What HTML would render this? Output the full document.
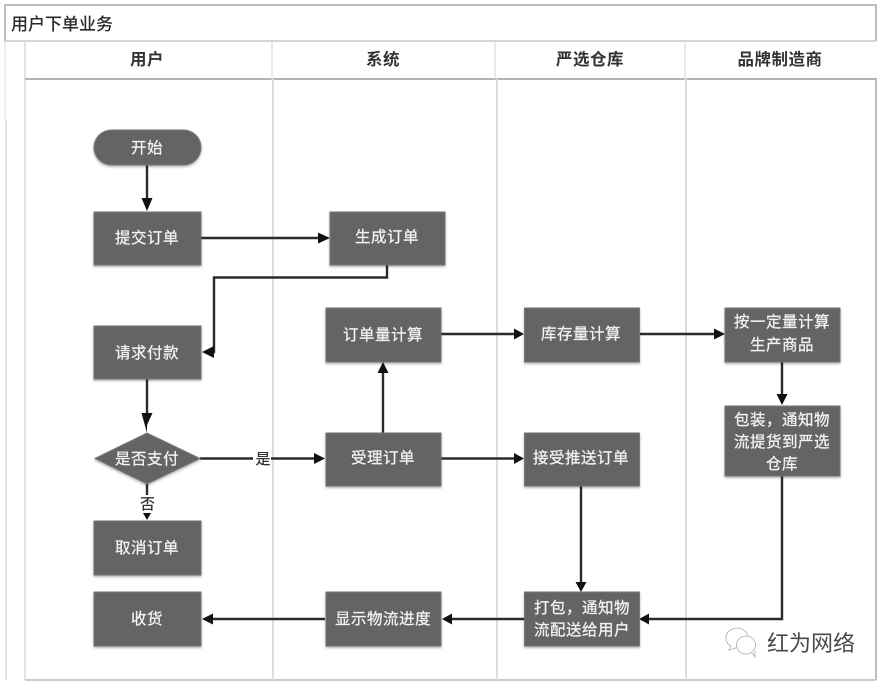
<!DOCTYPE html>
<html><head><meta charset="utf-8"><style>
html,body{margin:0;padding:0;background:#fff;width:882px;height:682px;overflow:hidden}
svg{display:block;font-family:"Liberation Sans","Noto Sans CJK SC",sans-serif}
.b{fill:#666366;stroke:#777;stroke-width:1;filter:url(#s)}
.t{fill:#f4f4f4;stroke:#f4f4f4;stroke-width:.25;font-size:15.5px;text-anchor:middle;letter-spacing:.5px}
.h{fill:#333;font-size:16.5px;font-weight:700;text-anchor:middle;letter-spacing:.5px}
.l{fill:none;stroke:#2b2b2b;stroke-width:2.4}
.a{fill:#111}
</style></head><body>
<svg width="882" height="682" viewBox="0 0 882 682" xmlns="http://www.w3.org/2000/svg">
<defs><filter id="s" x="-10%" y="-10%" width="120%" height="125%"><feDropShadow dx="0" dy="1.5" stdDeviation="1.2" flood-color="#000" flood-opacity=".3"/></filter></defs>
<rect width="882" height="682" fill="#fff"/>
<!-- frame -->
<path d="M5 41V5H876V41" fill="none" stroke="#aaa" stroke-width="1.5"/>
<path d="M5 41H876" stroke="#c8c8c8" stroke-width="1.5"/>
<path d="M5 41V120" stroke="#ddd" stroke-width="1"/>
<path d="M6 120V680" stroke="#ccc" stroke-width="1"/>
<path d="M25 41V680" stroke="#d8d8d8" stroke-width="1.5"/>
<path d="M876 78V680" stroke="#aaa" stroke-width="1.5"/>
<path d="M25 79H876" stroke="#b4b4b4" stroke-width="2"/>
<path d="M25 680H876" stroke="#bbb" stroke-width="1.5"/>
<path d="M272 42V79M495 42V79M685 42V79" stroke="#e2e2e2" stroke-width="1.5"/>
<path d="M273 79V680M497 79V680M686 79V680" stroke="#dedcde" stroke-width="2"/>
<text x="11" y="30" font-size="17" fill="#2a2a2a" font-weight="500">用户下单业务</text>
<text class="h" x="147" y="65">用户</text>
<text class="h" x="383" y="65">系统</text>
<text class="h" x="590" y="65">严选仓库</text>
<text class="h" x="780" y="65">品牌制造商</text>
<!-- connectors -->
<path class="l" d="M147 165V200"/><path class="a" d="M141.500 198H152.500L147 211Z"/>
<path class="l" d="M201 238H320"/><path class="a" d="M318 232.500L330 238L318 243.500Z"/>
<path class="l" d="M387 265V277.500H214V352H210"/><path class="a" d="M214 346V358L202 352Z"/>
<path class="l" d="M147 379V414"/><path class="a" d="M141.500 413H152.500L147 425L147 433Z"/>
<path class="l" d="M200 458.500H316"/><path class="a" d="M314 453L325 458.500L314 464Z"/>
<path class="l" d="M147 484V512"/><path class="a" d="M143 513H151L147 520Z"/>
<path class="l" d="M383 433V372"/><path class="a" d="M377.500 373H388.500L383 362Z"/>
<path class="l" d="M441 334H515"/><path class="a" d="M514 328.500L524 334L514 339.500Z"/>
<path class="l" d="M639 334H715"/><path class="a" d="M714 328.500L725 334L714 339.500Z"/>
<path class="l" d="M782 362V395"/><path class="a" d="M776.500 394H787.500L782 405Z"/>
<path class="l" d="M441 458.500H515"/><path class="a" d="M514 453L524 458.500L514 464Z"/>
<path class="l" d="M581 486V583"/><path class="a" d="M575.500 582H586.500L581 592Z"/>
<path class="l" d="M782 476V619H648"/><path class="a" d="M649 613.500V624.500L639 619Z"/>
<path class="l" d="M524 619H451"/><path class="a" d="M452 613.500V624.500L442 619Z"/>
<path class="l" d="M325 619H212"/><path class="a" d="M213 613.500V624.500L202 619Z"/>
<!-- nodes -->
<rect class="b" x="94" y="130" width="107" height="35" rx="17.500"/>
<rect class="b" x="94" y="212" width="107" height="53"/>
<rect class="b" x="330" y="212" width="115" height="53"/>
<rect class="b" x="94" y="326" width="107" height="53"/>
<rect class="b" x="326" y="308" width="115" height="54"/>
<rect class="b" x="524.500" y="308" width="115" height="54"/>
<rect class="b" x="725" y="308" width="115" height="54"/>
<rect class="b" x="725" y="406" width="115" height="70"/>
<path class="b" d="M95 458.500L147 433L200 458.500L147 484Z"/>
<rect class="b" x="326" y="433" width="115" height="53"/>
<rect class="b" x="524.500" y="433" width="115" height="53"/>
<rect class="b" x="94" y="521" width="107" height="54"/>
<rect class="b" x="94" y="592" width="107" height="54"/>
<rect class="b" x="326" y="592" width="115" height="54"/>
<rect class="b" x="524.500" y="592" width="115" height="54"/>
<!-- node text -->
<text class="t" x="147" y="153">开始</text>
<text class="t" x="147" y="243">提交订单</text>
<text class="t" x="387" y="242">生成订单</text>
<text class="t" x="147" y="358">请求付款</text>
<text class="t" x="383" y="340">订单量计算</text>
<text class="t" x="581" y="339">库存量计算</text>
<text class="t" x="782" y="327">按一定量计算</text>
<text class="t" x="782" y="350">生产商品</text>
<text class="t" x="782" y="425">包装，通知物</text>
<text class="t" x="782" y="447">流提货到严选</text>
<text class="t" x="782" y="469">仓库</text>
<text class="t" x="147" y="464">是否支付</text>
<text class="t" x="383" y="463">受理订单</text>
<text class="t" x="581" y="463">接受推送订单</text>
<text class="t" x="147" y="553">取消订单</text>
<text class="t" x="147" y="624">收货</text>
<text class="t" x="383" y="624">显示物流进度</text>
<text class="t" x="582" y="613">打包，通知物</text>
<text class="t" x="582" y="635">流配送给用户</text>
<!-- edge labels -->
<rect x="253" y="450" width="18" height="17" fill="#fff"/>
<text x="263" y="464" font-size="15" font-weight="500" fill="#333" text-anchor="middle">是</text>
<rect x="139" y="495" width="17" height="17" fill="#fff"/>
<text x="147.500" y="509" font-size="15" font-weight="500" fill="#333" text-anchor="middle">否</text>
<!-- watermark -->
<g fill="#fff" stroke="#aaa" stroke-width=".8">
<ellipse cx="737" cy="638" rx="11" ry="10"/>
<path d="M731 646L729 650L736 648"/>
<ellipse cx="746" cy="645" rx="9.500" ry="9"/>
<path d="M751 652L755 657L755 651"/>
</g>
<text x="767" y="651" font-size="22" fill="#4a4a4a">红为网络</text>
</svg>
</body></html>
